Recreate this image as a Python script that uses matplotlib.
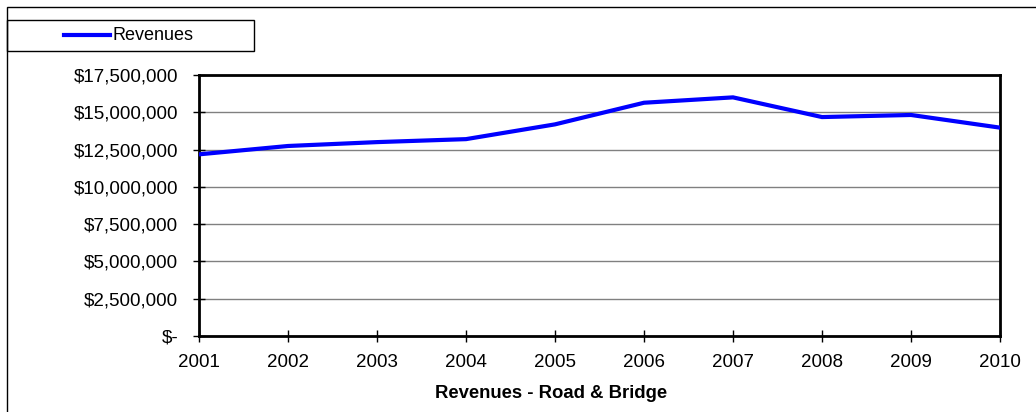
import matplotlib
matplotlib.use("Agg")
import matplotlib.pyplot as plt
from matplotlib.patches import Rectangle
from matplotlib.lines import Line2D

years = [2001, 2002, 2003, 2004, 2005, 2006, 2007, 2008, 2009, 2010]
revenues = [12180000, 12740000, 13000000, 13200000, 14190000,
            15640000, 16000000, 14680000, 14820000, 13970000]
y_ticks = [0, 2500000, 5000000, 7500000, 10000000, 12500000, 15000000, 17500000]
series_name = "Revenues"
x_title = "Revenues - Road & Bridge"

plt.rcParams['font.family'] = ['Liberation Sans', 'DejaVu Sans']

W, H = 1036, 412
fig = plt.figure(figsize=(W / 100, H / 100), dpi=100)

# outer chart border (extends past the image edges on right/bottom)
fig.patches.append(Rectangle((7 / W, -0.1), 1.2, 1 - 7 / H + 0.1, transform=fig.transFigure,
                             fill=False, edgecolor='black', linewidth=1.0))

ax = fig.add_axes([199 / W, 1 - 336 / H, (1000 - 199) / W, (336 - 75) / H])
ax.plot(years, revenues, color='#0000FF', linewidth=3.0, solid_joinstyle='miter', zorder=3)

ax.set_xlim(years[0], years[-1])
ax.set_ylim(y_ticks[0], y_ticks[-1])
ax.set_xticks(years)
ax.set_yticks(y_ticks)

def fmt(v):
    return "$-" if v == 0 else "${:,.0f}".format(v)

ax.set_yticklabels([fmt(v) for v in y_ticks], fontsize=13.5)
ax.set_xticklabels([str(y) for y in years], fontsize=13.5)
ax.tick_params(axis='both', direction='inout', length=9, width=1.0, color='black')
ax.tick_params(axis='y', pad=10.5)
ax.tick_params(axis='x', pad=8.5)

ax.grid(axis='y', color='#808080', linewidth=1.0, zorder=1)
ax.set_axisbelow(True)
for s in ax.spines.values():
    s.set_linewidth(2.0)
    s.set_color('black')

fig.text(551 / W, 1 - 393 / H, x_title, fontsize=13.3, fontweight='bold', ha='center', va='center')

# legend box at top-left
fig.patches.append(Rectangle((7 / W, 1 - 51 / H), (254 - 7) / W, 31 / H, transform=fig.transFigure,
                             fill=False, edgecolor='black', linewidth=1.0))
fig.lines.append(Line2D([64 / W, 110 / W], [1 - 35 / H, 1 - 35 / H], transform=fig.transFigure,
                        color='#0000FF', linewidth=3.0))
fig.text(112 / W, 1 - 35 / H, series_name, fontsize=13, va='center', ha='left')

fig.savefig("out.png", dpi=100)
